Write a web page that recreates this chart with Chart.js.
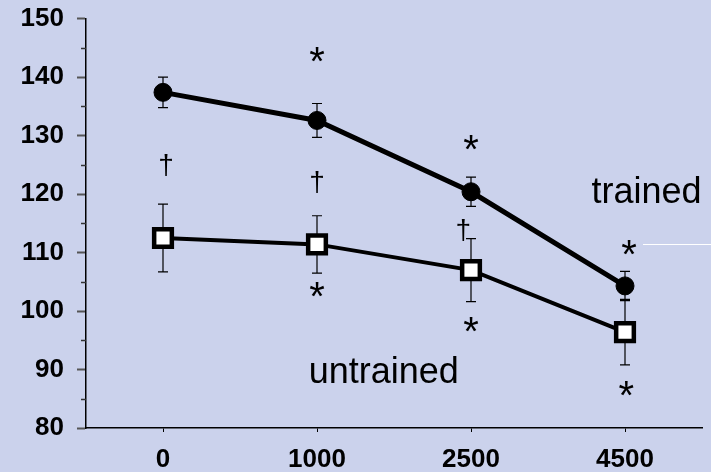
<!DOCTYPE html>
<html>
<head>
<meta charset="utf-8">
<script src="https://cdn.jsdelivr.net/npm/chart.js@4/dist/chart.umd.min.js"></script>
<style>
  html, body { margin: 0; padding: 0; background: #cbd2ec; }
  #wrap { width: 711px; height: 472px; }
</style>
</head>
<body>
<div id="wrap"><canvas id="c" width="711" height="472"></canvas></div>
<script>
// Doses on the x axis
const doses = ['0', '1000', '2500', '4500'];

// Group means and standard errors
const trained = [137.4, 132.6, 120.4, 104.3];
const trainedSE = [2.6, 2.9, 2.5, 2.5];
const untrained = [112.5, 111.4, 107.0, 96.4];
const untrainedSE = [5.8, 4.9, 5.4, 5.6];

// y axis range
const yMin = 80;
const yMax = 150;
const yStep = 10;
const yMinorStep = 5;

// Significance marks: [category index, value]
const asterisks = [[1, 143.8], [2, 128.8], [3.026, 110.8], [1, 103.7], [2, 97.65], [3.008, 86.7]];
const daggers = [[0.02, 125.0], [1, 122.1], [1.95, 113.8]];

// Group names written beside the lines: [text, category index, value at baseline]
const groupLabels = [['trained', 3.14, 118.55], ['untrained', 1.434, 87.78]];

// Short white leader line next to the "trained" label: [start index, value]
const leader = [3.117, 111.4];

const BG = '#cbd2ec';
const FONT = "'Liberation Sans', Arial, sans-serif";

const backgroundPlugin = {
  id: 'background',
  beforeDraw(chart) {
    const ctx = chart.ctx;
    ctx.save();
    ctx.fillStyle = BG;
    ctx.fillRect(0, 0, chart.width, chart.height);
    ctx.restore();
  }
};

const errorBarPlugin = {
  id: 'errorBars',
  beforeDatasetsDraw(chart) {
    const ctx = chart.ctx;
    const y = chart.scales.y;
    const errs = [trainedSE, untrainedSE];
    ctx.save();
    ctx.strokeStyle = '#000';
    ctx.lineWidth = 1.2;
    chart.data.datasets.forEach((ds, di) => {
      const meta = chart.getDatasetMeta(di);
      meta.data.forEach((pt, i) => {
        const v = ds.data[i];
        const e = errs[di][i];
        const top = y.getPixelForValue(v + e);
        const bot = y.getPixelForValue(v - e);
        const x = pt.x;
        ctx.beginPath();
        ctx.moveTo(x, top); ctx.lineTo(x, bot);
        ctx.moveTo(x - 5, top); ctx.lineTo(x + 5, top);
        ctx.moveTo(x - 5, bot); ctx.lineTo(x + 5, bot);
        ctx.stroke();
      });
    });
    ctx.restore();
  }
};

function drawCentered(ctx, text, cx, cy) {
  const m = ctx.measureText(text);
  const asc = m.actualBoundingBoxAscent, desc = m.actualBoundingBoxDescent;
  ctx.fillText(text, cx, cy + (asc - desc) / 2);
}

const marksPlugin = {
  id: 'marks',
  afterDraw(chart) {
    const ctx = chart.ctx;
    const xs = chart.scales.x, ys = chart.scales.y;
    ctx.save();
    ctx.fillStyle = '#000';
    ctx.textAlign = 'center';
    ctx.textBaseline = 'alphabetic';

    // minor ticks on the y axis
    ctx.strokeStyle = '#333';
    ctx.lineWidth = 1.5;
    for (let v = yMin + yMinorStep; v < yMax; v += yStep) {
      const py = Math.round(ys.getPixelForValue(v)) + 0.5;
      ctx.beginPath();
      ctx.moveTo(chart.chartArea.left - 5, py);
      ctx.lineTo(chart.chartArea.left, py);
      ctx.stroke();
    }

    ctx.font = '40px ' + FONT;
    asterisks.forEach(([i, v]) => drawCentered(ctx, '*', xs.getPixelForValue(i), ys.getPixelForValue(v)));
    ctx.font = '28px ' + FONT;
    daggers.forEach(([i, v]) => drawCentered(ctx, '\u2020', xs.getPixelForValue(i), ys.getPixelForValue(v)));

    ctx.font = '36px ' + FONT;
    groupLabels.forEach(([t, i, v]) => ctx.fillText(t, xs.getPixelForValue(i), ys.getPixelForValue(v)));

    ctx.strokeStyle = '#ffffff';
    ctx.lineWidth = 1;
    const ly = Math.round(ys.getPixelForValue(leader[1])) + 0.5;
    ctx.beginPath();
    ctx.moveTo(xs.getPixelForValue(leader[0]), ly);
    ctx.lineTo(chart.width, ly);
    ctx.stroke();
    ctx.restore();
  }
};

const tickFont = { family: FONT, size: 26, weight: 'bold' };

new Chart(document.getElementById('c'), {
  type: 'line',
  data: {
    labels: doses,
    datasets: [
      {
        label: 'trained',
        data: trained,
        borderColor: '#000',
        borderWidth: 5,
        pointStyle: 'circle',
        pointRadius: 9,
        pointBackgroundColor: '#000',
        pointBorderColor: '#000',
        pointBorderWidth: 1,
        tension: 0
      },
      {
        label: 'untrained',
        data: untrained,
        borderColor: '#000',
        borderWidth: 4,
        pointStyle: 'rect',
        pointRadius: 12.5,
        pointBackgroundColor: '#fff',
        pointBorderColor: '#000',
        pointBorderWidth: 4.5,
        tension: 0
      }
    ]
  },
  options: {
    responsive: false,
    animation: false,
    devicePixelRatio: 1,
    layout: { autoPadding: false, padding: { top: 18.7, right: 9, left: 0, bottom: 0 } },
    plugins: { legend: { display: false }, tooltip: { enabled: false } },
    scales: {
      x: {
        offset: true,
        grid: { offset: false, drawOnChartArea: false, tickLength: 4, tickColor: '#000', tickWidth: 1 },
        border: { color: '#000', width: 1.5 },
        ticks: { color: '#000', font: tickFont, padding: 12, maxRotation: 0 },
        afterFit(s) { s.height = 44; s.paddingLeft = 0; s.paddingRight = 0; }
      },
      y: {
        min: yMin,
        max: yMax,
        grid: { drawOnChartArea: false, tickLength: 9, tickColor: '#555', tickWidth: 2 },
        border: { color: '#000', width: 1.5 },
        ticks: { stepSize: yStep, color: '#000', font: tickFont, padding: 13 },
        afterFit(s) { s.width = 86; s.paddingTop = 0; s.paddingBottom = 0; }
      }
    }
  },
  plugins: [backgroundPlugin, errorBarPlugin, marksPlugin]
});
</script>
</body>
</html>
